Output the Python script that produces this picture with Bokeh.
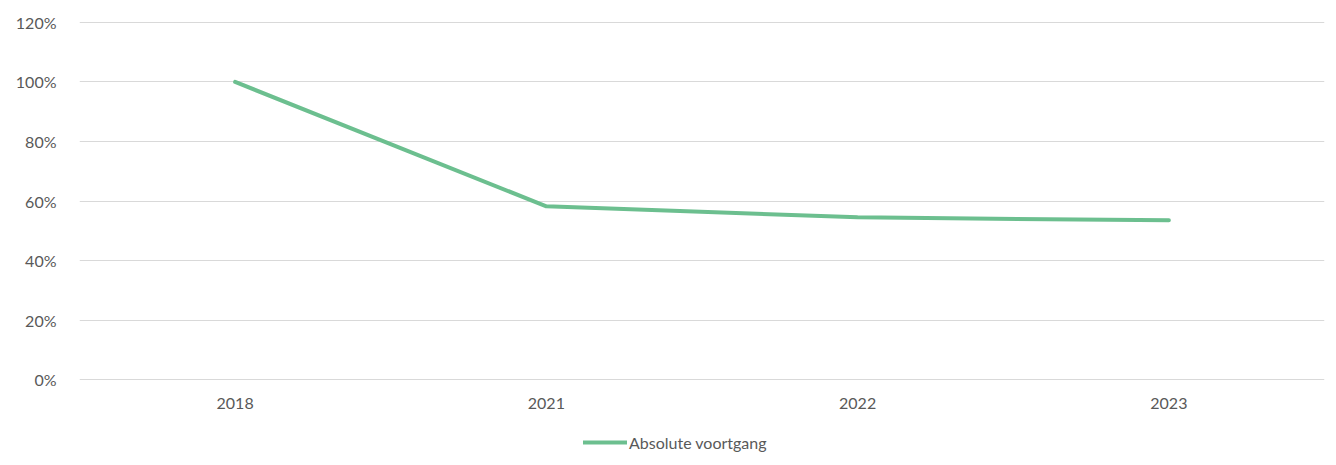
from bokeh.plotting import figure
from bokeh.layouts import column
from bokeh.models import Legend, LegendItem, NumeralTickFormatter, FixedTicker, Range1d
from bokeh.embed import file_html
from bokeh.resources import INLINE

years = ["2018", "2021", "2022", "2023"]
progress = [1.00, 0.582, 0.545, 0.535]
series_name = "Absolute voortgang"
y_ticks = [0, 0.2, 0.4, 0.6, 0.8, 1.0, 1.2]

FONT = "Lato"
TXT = "#595959"
LINE = "#6cbf8f"

chart = figure(x_range=years, y_range=Range1d(-0.003, 1.203), width=1328, height=415,
               output_backend="svg", toolbar_location=None,
               min_border_left=79, min_border_right=4, min_border_top=21, min_border_bottom=35)
chart.outline_line_color = None

chart.line(x=years, y=progress, line_color=LINE, line_width=4, line_cap="round", line_join="round")

chart.yaxis.ticker = FixedTicker(ticks=y_ticks)
chart.yaxis.formatter = NumeralTickFormatter(format="0%")
for ax in (chart.xaxis[0], chart.yaxis[0]):
    ax.axis_line_color = None
    ax.major_tick_line_color = None
    ax.minor_tick_line_color = None
    ax.major_label_text_font = FONT
    ax.major_label_text_font_size = "16px"
    ax.major_label_text_color = TXT
chart.yaxis.major_label_standoff = 17
chart.xaxis.major_label_standoff = 11

chart.xgrid.grid_line_color = None
chart.ygrid.grid_line_color = "#d9d9d9"
chart.ygrid.grid_line_width = 1

# legend strip below the chart (dummy renderer kept outside the visible range)
leg = figure(width=1328, height=50, output_backend="svg", toolbar_location=None,
             x_range=Range1d(0, 1), y_range=Range1d(0, 1),
             min_border_left=0, min_border_right=0, min_border_top=0, min_border_bottom=0)
leg.axis.visible = False
leg.grid.visible = False
leg.outline_line_color = None
lr = leg.line(x=[-2, -1], y=[-2, -2], line_color=LINE, line_width=4, line_cap="round")
legend = Legend(items=[LegendItem(label=series_name, renderers=[lr])],
                location=(504, 13), orientation="horizontal",
                label_text_font=FONT, label_text_font_size="16px", label_text_color=TXT,
                glyph_width=44, label_standoff=2, border_line_color=None,
                background_fill_alpha=0, margin=0, padding=4)
leg.add_layout(legend, "center")

layout = column(chart, leg, spacing=0)
open("out.html", "w").write(file_html(layout, INLINE))
